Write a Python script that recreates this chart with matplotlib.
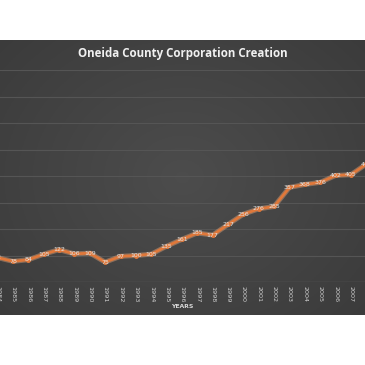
import matplotlib.pyplot as plt
import numpy as np

years = list(range(1984, 2009))
counts = [92, 78, 84, 105, 122, 106, 109, 75, 97, 100, 105, 135, 161, 185, 177,
          217, 256, 276, 285, 357, 368, 376, 402, 405, 445]
tick_years = list(range(1984, 2008))

W = 365
fig = plt.figure(figsize=(3.65, 3.65), dpi=100)
fig.patch.set_facecolor("white")

# dark panel with a soft radial gradient
bg = fig.add_axes([0, 1 - 315 / W, 1, 275 / W])
yy, xx = np.mgrid[-1:1:200j, -1:1:200j]
r = np.sqrt(xx ** 2 + (yy * 0.9) ** 2)
shade = 0.30 - 0.07 * np.clip(r, 0, 1.4) / 1.4
bg.imshow(np.dstack([shade] * 3), aspect="auto", extent=[0, 1, 0, 1])
bg.axis("off")

# plot area (wider than the figure so the chart looks cropped)
px = 15.36
left_px, right_px = -20, 385
ax = fig.add_axes([left_px / W, 1 - 282 / W, (right_px - left_px) / W, 212 / W])
ax.set_facecolor("none")
ax.set_xlim(1985 + (left_px - 13) / px, 1985 + (right_px - 13) / px)
ax.set_ylim(0, 800)
ax.set_yticks(range(0, 801, 100))
ax.yaxis.grid(True, color="#555555", linewidth=0.8)
ax.set_axisbelow(True)
ax.tick_params(axis="y", left=False, labelleft=False)
for s in ax.spines.values():
    s.set_visible(False)
ax.axhline(0, color="#666666", linewidth=0.9)

ax.set_xticks(tick_years)
ax.set_xticklabels([str(y) for y in tick_years], rotation=270, fontsize=4.6,
                   color="#d0d0d0")
ax.tick_params(axis="x", length=0, pad=3)

ax.plot(years, counts, color="#f4b183", linewidth=3.6, alpha=0.4,
        solid_joinstyle="round")
ax.plot(years, counts, color="#e0783a", linewidth=2.0, marker="o",
        markersize=2.5, solid_joinstyle="round")
for x, v in zip(years, counts):
    ax.text(x, v, str(v), ha="center", va="center", fontsize=4.5,
            color="#e6e6e6", clip_on=False)

fig.text(0.5, 1 - 54 / W, "Oneida County Corporation Creation", ha="center",
         va="center", fontsize=8.3, fontweight="bold", color="#f0f0f0",
         family="Open Sans")
fig.text(0.5, 1 - 307 / W, "YEARS", ha="center", va="center", fontsize=4.4,
         fontweight="bold", color="#d9d9d9")

fig.savefig("out.png", dpi=100)
